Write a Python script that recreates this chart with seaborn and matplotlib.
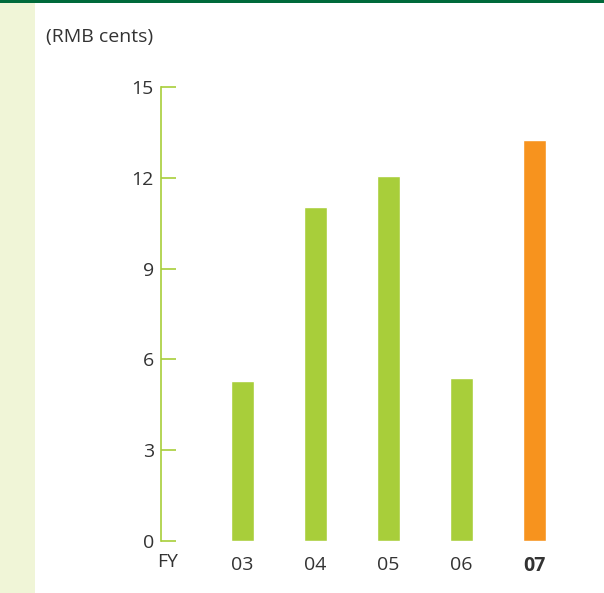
import matplotlib
matplotlib.use("Agg")
import matplotlib.pyplot as plt
import seaborn as sns
import pandas as pd
from matplotlib.patches import Rectangle

categories = ["03", "04", "05", "06", "07"]
values = [5.3, 11.05, 12.05, 5.4, 13.25]
colors = ["#A8CE3A", "#A8CE3A", "#A8CE3A", "#A8CE3A", "#F7931E"]
yticks = [0, 3, 6, 9, 12, 15]

sns.set_theme(style="white")
plt.rcParams['font.family'] = ['Open Sans', 'DejaVu Sans']

W, H = 604, 593
fig = plt.figure(figsize=(W / 100, H / 100), dpi=100)
fig.patch.set_facecolor("white")

# decorations
fig.add_artist(Rectangle((0, 0), 35 / W, 1 - 3 / H, transform=fig.transFigure,
                         facecolor="#F0F5D7", edgecolor="none", zorder=0))
fig.add_artist(Rectangle((0, 1 - 3 / H), 1, 3 / H, transform=fig.transFigure,
                         facecolor="#006A3B", edgecolor="none", zorder=0))

left_px, right_px = 160.7, 590
bot_px, top_px = 541, 87
ax = fig.add_axes([left_px / W, (H - bot_px) / H, (right_px - left_px) / W, (bot_px - top_px) / H])
ax.set_facecolor("none")

df = pd.DataFrame({"FY": categories, "value": values})
sns.barplot(data=df, x="FY", y="value", hue="FY", palette=colors, legend=False,
            width=0.315, saturation=1, ax=ax)

units = (right_px - left_px) / 73.0
ax.set_xlim(-1.12, -1.12 + units)
ax.set_ylim(0, 15)
ax.set_yticks(yticks)
ax.set_yticklabels([str(t) for t in yticks], fontsize=14, color="#333333")
ax.tick_params(axis="y", direction="in", length=11, width=1.2, color="#A8CE3A", pad=5, left=True)
ax.tick_params(axis="x", length=0, pad=11, labelsize=14, labelcolor="#333333")
ax.set_xticks(range(len(categories)))
ax.set_xticklabels(categories)
for lbl in ax.get_xticklabels():
    if lbl.get_text() == "07":
        lbl.set_fontweight("bold")
for s in ["top", "right", "bottom"]:
    ax.spines[s].set_visible(False)
ax.spines["left"].set_color("#A8CE3A")
ax.spines["left"].set_linewidth(1.2)
ax.set_xlabel("")
ax.set_ylabel("")

fig.text(168 / W, 1 - 562 / H, "FY", ha="center", va="center", fontsize=14, color="#333333")
fig.text(46 / W, 1 - 37 / H, "(RMB cents)", ha="left", va="center", fontsize=14, color="#333333")

fig.savefig("out.png", dpi=100)
